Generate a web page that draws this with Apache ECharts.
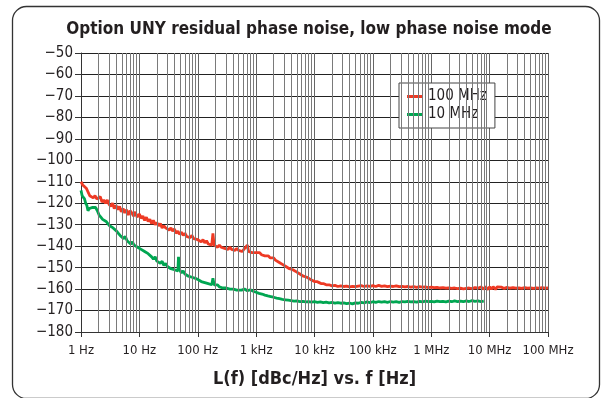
<!DOCTYPE html>
<html><head><meta charset="utf-8">
<script src="https://cdn.jsdelivr.net/npm/echarts@6/dist/echarts.min.js"></script>
<style>html,body{margin:0;padding:0;background:#fff}#c{width:605px;height:398px}</style>
</head><body><div id="c"></div>
<script>
// x values are log10(frequency in Hz)
const xTickLabels = ['1 Hz','10 Hz','100 Hz','1 kHz','10 kHz','100 kHz','1 MHz','10 MHz','100 MHz'];
const minorMultipliers = [2,3,4,5,6,7,8,9];
const seriesNames = ['100 MHz','10 MHz'];
const red100MHz = [
[0,-110],[0.03,-111.5],[0.06,-111],[0.09,-113],[0.12,-113.5],[0.15,-116.5],[0.18,-116],[0.21,-117.5],[0.24,-116.5],[0.27,-118],
[0.30,-118.5],[0.33,-117],[0.36,-119.5],[0.39,-118.5],[0.42,-120],[0.45,-118.5],[0.48,-120.5],[0.51,-121.5],[0.54,-120],[0.57,-122.5],
[0.60,-121],[0.63,-123],[0.66,-121.5],[0.69,-124],[0.72,-122.5],[0.75,-124.5],[0.78,-123],[0.81,-125.5],[0.84,-123.5],[0.87,-124.5],
[0.90,-126],[0.93,-124],[0.96,-126.5],[1.00,-125],[1.03,-127],[1.06,-126],[1.09,-128],[1.12,-126.5],[1.15,-128.5],[1.18,-127.5],
[1.21,-129.5],[1.24,-128],[1.27,-130],[1.30,-129],[1.33,-130.5],[1.36,-129.5],[1.39,-131.5],[1.42,-130.5],[1.45,-131.5],[1.48,-131],
[1.51,-132.5],[1.54,-131.5],[1.57,-133],[1.60,-132],[1.63,-134],[1.66,-133],[1.69,-134.5],[1.72,-133.5],[1.75,-135],[1.78,-134],
[1.81,-135.5],[1.84,-135],[1.87,-136],[1.90,-135],[1.93,-136.5],[1.96,-136],[2.00,-137],[2.03,-136.5],[2.06,-138],[2.09,-137],
[2.12,-138.5],[2.15,-137.5],[2.18,-139],[2.21,-138.5],[2.24,-139.5],[2.26,-134],[2.28,-139.5],[2.31,-139],[2.34,-140.5],[2.37,-139.5],
[2.40,-140.5],[2.43,-140],[2.46,-141],[2.49,-140.5],[2.52,-141.5],[2.55,-140.5],[2.58,-141.5],[2.61,-141],[2.64,-142],[2.67,-141],
[2.70,-142],[2.73,-141.5],[2.76,-142.5],[2.79,-141.5],[2.82,-142],[2.85,-139.5],[2.87,-142.5],[2.90,-142],[2.93,-143],[2.96,-142.5],
[3.00,-143],[3.03,-143.5],[3.06,-143],[3.09,-144],[3.12,-143.5],[3.15,-144.5],[3.18,-145],[3.21,-144.5],[3.24,-145.5],[3.27,-146],
[3.30,-145.5],[3.33,-146.5],[3.36,-147],[3.39,-147.5],[3.42,-148],[3.45,-148.5],[3.48,-148],[3.51,-149.5],[3.54,-149],[3.57,-150.5],
[3.60,-150],[3.63,-151],[3.66,-151.5],[3.69,-152],[3.72,-152.5],[3.75,-153],[3.78,-153.5],[3.81,-154],[3.84,-154],[3.87,-154.5],
[3.90,-155],[3.93,-155.5],[3.96,-156],[4.00,-156.5],[4.04,-156.5],[4.08,-157],[4.12,-157.5],[4.16,-157.5],[4.20,-158],[4.25,-158],
[4.30,-158.5],[4.35,-158.3],[4.40,-158.8],[4.45,-158.5],[4.50,-158.8],[4.55,-158.6],[4.60,-159],[4.65,-158.7],[4.70,-158.9],[4.75,-158.6],
[4.80,-158.4],[4.85,-158.8],[4.90,-158.5],[4.95,-158.7],[5.00,-158.4],[5.05,-158.8],[5.10,-158.3],[5.15,-158.7],[5.20,-158.5],[5.25,-158.9],
[5.30,-158.6],[5.35,-158.8],[5.40,-158.5],[5.45,-158.9],[5.50,-158.7],[5.55,-159],[5.60,-158.8],[5.65,-159.1],[5.70,-158.9],[5.75,-159.2],
[5.80,-158.9],[5.85,-159.1],[5.90,-159],[5.95,-159.3],[6.00,-159.1],[6.05,-159.3],[6.10,-159.2],[6.15,-159.5],[6.20,-159.3],[6.25,-159.6],
[6.30,-159.4],[6.35,-159.7],[6.40,-159.5],[6.45,-159.8],[6.50,-159.6],[6.55,-159.9],[6.60,-159.7],[6.65,-159.5],[6.70,-159.8],[6.75,-159.3],
[6.80,-159.6],[6.85,-159],[6.90,-160],[6.93,-158.8],[6.96,-160.2],[7.00,-159],[7.03,-160],[7.06,-158.9],[7.10,-160.1],[7.13,-159],
[7.16,-159.9],[7.20,-159.1],[7.25,-159.7],[7.30,-159.2],[7.35,-159.6],[7.40,-159.3],[7.45,-159.6],[7.50,-159.4],[7.55,-159.7],[7.60,-159.3],
[7.65,-159.6],[7.70,-159.4],[7.75,-159.7],[7.80,-159.4],[7.85,-159.6],[7.90,-159.3],[7.95,-159.6],[8.00,-159.5]
];
const green10MHz = [
[0,-114],[0.02,-116.5],[0.04,-116],[0.06,-118],[0.08,-120],[0.10,-121],[0.12,-123.5],[0.14,-122.5],[0.16,-123],[0.19,-122],
[0.22,-122.5],[0.25,-122],[0.28,-123.5],[0.31,-125.5],[0.34,-126.5],[0.37,-127.5],[0.40,-127],[0.43,-128.5],[0.46,-128],[0.49,-130.5],
[0.52,-130],[0.55,-131.5],[0.58,-131],[0.61,-133],[0.64,-134],[0.67,-135],[0.70,-134.5],[0.73,-136.5],[0.76,-135.5],[0.79,-137.5],
[0.82,-137],[0.85,-139],[0.88,-138],[0.91,-139.5],[0.94,-139],[0.97,-140.5],[1.00,-140],[1.03,-141.5],[1.06,-141],[1.09,-142.5],
[1.12,-142],[1.15,-143.5],[1.18,-143],[1.21,-145],[1.24,-146],[1.27,-145],[1.30,-147],[1.33,-146.5],[1.36,-148],[1.39,-147],
[1.42,-149],[1.45,-148],[1.48,-149.5],[1.51,-149],[1.54,-150.5],[1.57,-150],[1.60,-151],[1.63,-150.5],[1.66,-151.5],[1.67,-145],
[1.68,-144.5],[1.69,-151],[1.72,-152.5],[1.75,-151.5],[1.78,-153],[1.81,-152.5],[1.84,-154],[1.87,-153.5],[1.90,-154.5],[1.93,-154],
[1.96,-155],[2.00,-155.5],[2.03,-155],[2.06,-156.5],[2.09,-156],[2.12,-157],[2.15,-156.5],[2.18,-157.5],[2.21,-157],[2.24,-158],
[2.26,-155],[2.28,-158],[2.31,-158.5],[2.34,-158],[2.37,-159],[2.40,-158.5],[2.43,-159.5],[2.46,-159],[2.49,-159.5],[2.52,-159],
[2.55,-160],[2.58,-159.5],[2.61,-160],[2.64,-159.5],[2.67,-160.5],[2.70,-160],[2.75,-160.5],[2.80,-160],[2.85,-160.8],[2.90,-160.3],
[2.95,-161],[3.00,-161.5],[3.05,-162],[3.10,-162.3],[3.15,-162.8],[3.20,-163.2],[3.25,-163.5],[3.30,-163.8],[3.35,-164.2],[3.40,-164.5],
[3.45,-164.8],[3.50,-165],[3.55,-165.2],[3.60,-165.4],[3.65,-165.6],[3.70,-165.5],[3.75,-165.8],[3.80,-165.7],[3.85,-166],[3.90,-165.8],
[3.95,-166.1],[4.00,-165.9],[4.05,-166.2],[4.10,-166],[4.15,-166.3],[4.20,-166.1],[4.25,-166.4],[4.30,-166.2],[4.35,-166.5],[4.40,-166.3],
[4.45,-166.6],[4.50,-166.4],[4.55,-166.8],[4.60,-166.5],[4.65,-166.9],[4.70,-166.4],[4.75,-166.6],[4.80,-166.2],[4.85,-166.4],[4.90,-166],
[4.95,-166.3],[5.00,-165.9],[5.05,-166.2],[5.10,-165.8],[5.15,-166.1],[5.20,-165.9],[5.25,-166.2],[5.30,-165.8],[5.35,-166.1],[5.40,-165.9],
[5.45,-166.2],[5.50,-165.8],[5.55,-166],[5.60,-165.7],[5.65,-166],[5.70,-165.8],[5.75,-166.1],[5.80,-165.7],[5.85,-166],[5.90,-165.6],
[5.95,-165.9],[6.00,-165.7],[6.05,-166],[6.10,-165.6],[6.15,-165.9],[6.20,-165.7],[6.25,-166],[6.30,-165.6],[6.35,-165.9],[6.40,-165.5],
[6.45,-165.8],[6.50,-165.6],[6.55,-165.9],[6.60,-165.5],[6.65,-165.8],[6.70,-165.4],[6.75,-165.7],[6.80,-165.5],[6.85,-165.8],[6.90,-165.6]
];

const FONT = '"Liberation Sans Narrow","Arial Narrow","DejaVu Sans Condensed",sans-serif';
const minorLines = [];
for (let d = 0; d < xTickLabels.length - 1; d++) {
  minorMultipliers.forEach(k => minorLines.push({xAxis: d + Math.log10(k)}));
}
const chart = echarts.init(document.getElementById('c'), null, {renderer: 'canvas'});
chart.setOption({
  animation: false,
  backgroundColor: '#fff',
  graphic: [{
    type: 'rect', silent: true, z: -1,
    shape: {x: 12.5, y: 6.5, width: 587, height: 392, r: 14},
    style: {fill: 'none', stroke: '#333', lineWidth: 1.3}
  }, {
    type: 'text', silent: true, x: 309, y: 30,
    style: {text: 'Option UNY residual phase noise, low phase noise mode',
      font: 'bold 17px ' + FONT, fill: '#231f20', align: 'center', verticalAlign: 'middle'}
  }],
  legend: {
    orient: 'vertical', left: 399, top: 83,
    backgroundColor: '#fff', borderColor: '#444', borderWidth: 1,
    padding: [6, 8, 6, 8], itemGap: 3,
    itemWidth: 16, itemHeight: 3, icon: 'rect',
    textStyle: {fontFamily: FONT, fontSize: 15, color: '#231f20', lineHeight: 15},
    data: seriesNames
  },
  grid: {left: 81, right: 57, top: 53, bottom: 66},
  xAxis: {
    type: 'value', min: 0, max: 8, interval: 1,
    name: 'L(f) [dBc/Hz] vs. f [Hz]', nameLocation: 'middle', nameGap: 38,
    nameTextStyle: {fontFamily: FONT, fontSize: 18, fontWeight: 'bold', color: '#231f20'},
    axisLine: {show: true, lineStyle: {color: '#333', width: 1}},
    axisTick: {show: true, length: 5, lineStyle: {color: '#333'}},
    axisLabel: {fontFamily: FONT, fontSize: 13, color: '#231f20', margin: 12,
      formatter: v => xTickLabels[Math.round(v)]},
    splitLine: {show: true, lineStyle: {color: '#666', width: 1}}
  },
  yAxis: {
    type: 'value', min: -180, max: -50, interval: 10,
    axisLine: {show: true, lineStyle: {color: '#333', width: 1}},
    axisTick: {show: true, length: 6, lineStyle: {color: '#333'}},
    axisLabel: {fontFamily: FONT, fontSize: 15, color: '#231f20', margin: 8,
      formatter: v => String(v).replace('-', '\u2212')},
    splitLine: {show: true, lineStyle: {color: '#222', width: 1}}
  },
  series: [
    {
      name: 'minor', type: 'line', data: [], silent: true, z: 1,
      markLine: {silent: true, symbol: 'none', label: {show: false},
        lineStyle: {color: '#7a7a7a', width: 1, type: 'solid'}, data: minorLines}
    },
    {
      name: seriesNames[0], type: 'line', data: red100MHz, showSymbol: false, z: 3,
      lineStyle: {color: '#ee3a24', width: 2.8}, itemStyle: {color: '#ee3a24'}
    },
    {
      name: seriesNames[1], type: 'line', data: green10MHz, showSymbol: false, z: 3,
      lineStyle: {color: '#00a651', width: 2.8}, itemStyle: {color: '#00a651'}
    }
  ]
});
</script></body></html>
